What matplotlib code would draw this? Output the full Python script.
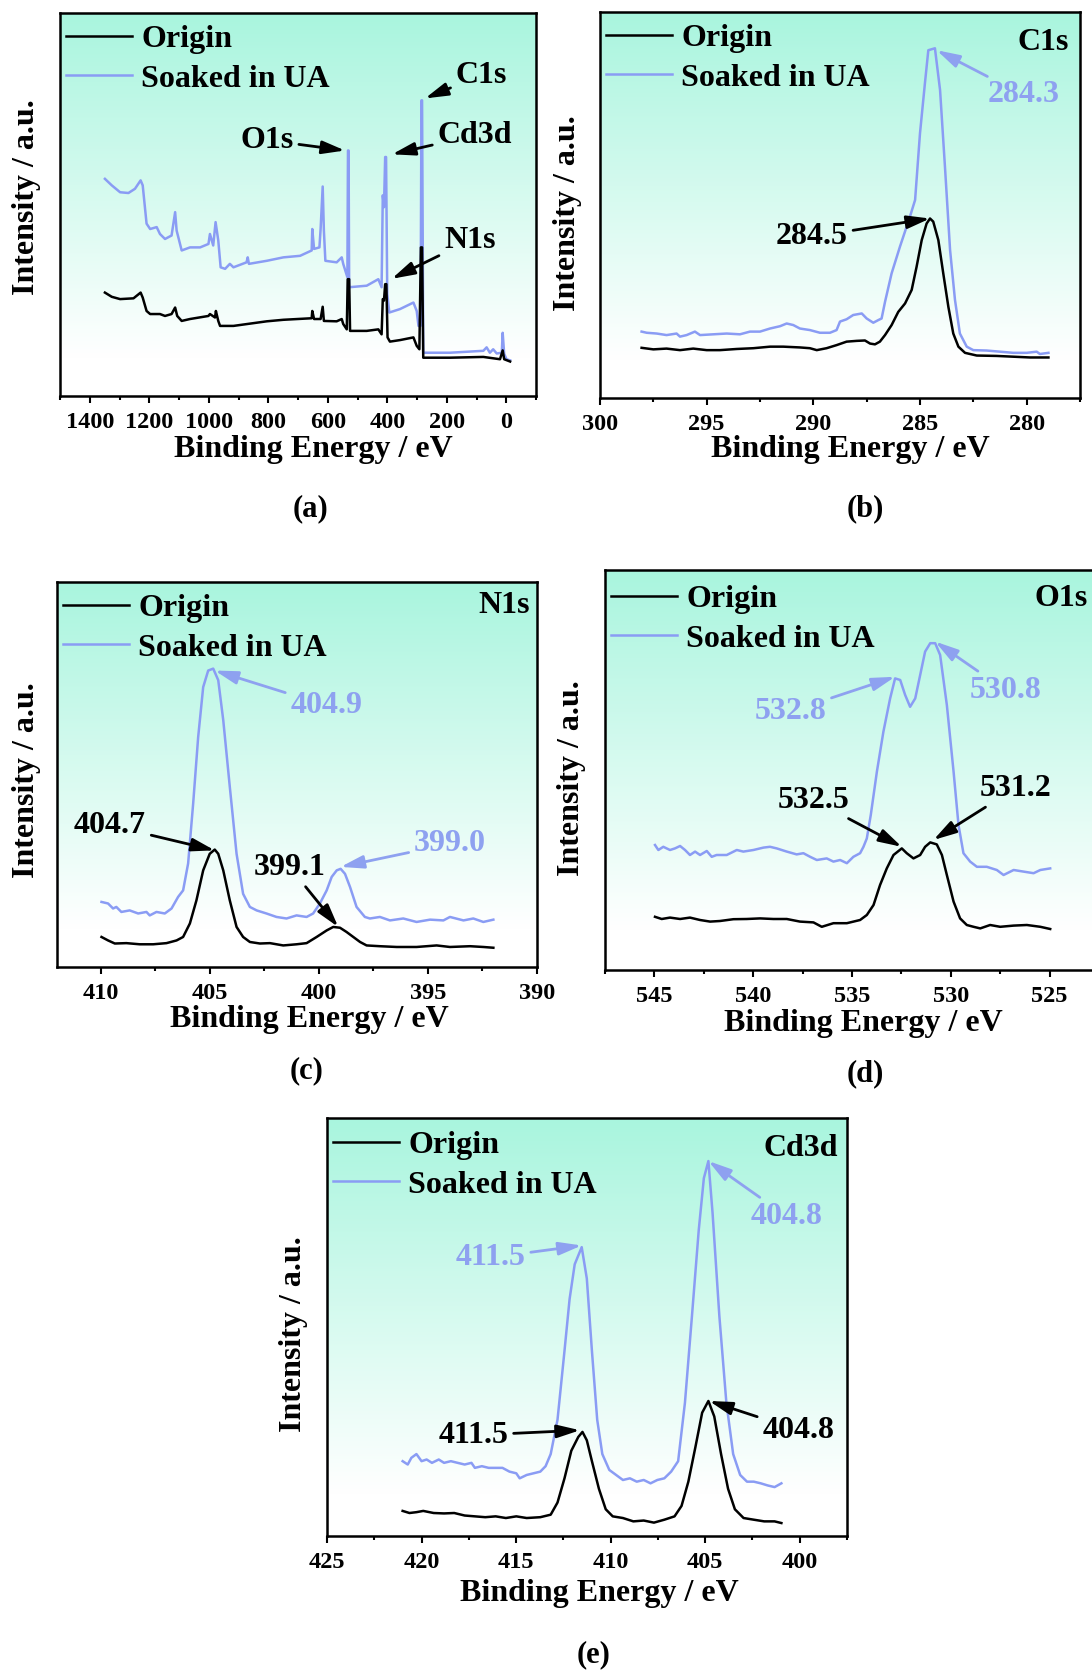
import numpy as np
import matplotlib
matplotlib.use('Agg')
import matplotlib.pyplot as plt
from matplotlib.colors import LinearSegmentedColormap
from matplotlib.ticker import MultipleLocator

plt.rcParams['font.family'] = ['Liberation Serif', 'DejaVu Serif']
plt.rcParams['font.weight'] = 'bold'
plt.rcParams['axes.labelweight'] = 'bold'

BLUE = '#8a9cf4'
BLUE_TXT = '#8ea1f0'

# (a) survey spectrum
be_a_origin = [1349, 1326, 1298, 1253, 1229, 1222, 1209, 1197, 1164, 1147, 1125, 1113, 1106, 1091, 1063,
               1001, 996, 979, 976, 968, 962, 917, 861, 805, 749, 654, 652, 646, 624, 617, 613, 570, 553,
               548, 536, 533, 528, 525, 469, 430, 419, 415, 411, 407, 403, 399, 391, 357, 312, 301, 292,
               287, 283, 279, 189, 77, 21, 12, 7, -13]
int_a_origin = [27.0, 25.9, 25.3, 25.5, 27.0, 25.7, 22.2, 21.4, 21.4, 20.9, 21.4, 23.1, 20.9, 19.6, 20.1,
                20.9, 21.4, 20.5, 22.2, 19.6, 18.3, 18.3, 18.9, 19.5, 19.9, 20.3, 22.2, 20.1, 20.1, 23.3,
                19.6, 19.5, 20.1, 18.8, 17.4, 30.5, 30.5, 17.0, 17.0, 17.4, 16.1, 25.3, 24.9, 29.2, 29.2,
                15.3, 14.2, 14.6, 15.3, 13.1, 12.2, 38.8, 38.8, 10.0, 10.0, 10.2, 9.6, 11.9, 9.6, 9.0]
be_a_ua = [1349, 1326, 1298, 1270, 1248, 1229, 1222, 1209, 1197, 1175, 1164, 1147, 1125, 1113, 1108, 1091,
           1063, 1029, 1001, 996, 985, 977, 968, 960, 945, 929, 917, 873, 869, 865, 805, 749, 693, 654,
           652, 646, 628, 624, 617, 613, 608, 570, 553, 548, 534, 532, 530, 528, 469, 430, 419, 415, 411,
           407, 404, 400, 393, 357, 312, 301, 295, 288, 285, 283, 279, 189, 77, 66, 55, 44, 32, 15, 12,
           7, -1, -13]
int_a_ua = [56.7, 55.0, 53.2, 53.0, 54.1, 56.3, 55.0, 45.0, 43.6, 44.1, 42.3, 41.0, 41.9, 48.0, 43.2, 38.0,
            38.8, 38.8, 39.7, 42.3, 39.3, 45.4, 40.6, 33.6, 33.2, 34.5, 33.6, 34.9, 36.2, 34.5, 35.3, 36.2,
            36.6, 38.0, 43.6, 38.4, 38.8, 43.6, 54.7, 43.2, 35.3, 34.9, 36.2, 34.5, 31.0, 64.1, 64.1, 28.4,
            28.8, 30.5, 28.4, 52.4, 49.3, 62.4, 62.4, 26.6, 21.8, 22.7, 24.4, 22.2, 18.3, 18.3, 77.2, 77.2,
            11.3, 11.3, 11.8, 12.7, 11.3, 12.2, 11.1, 11.3, 16.5, 11.0, 9.6, 9.3]

# (b) C1s
be_b_origin = [298.05, 297.5, 296.88, 296.25, 295.63, 295.0, 294.38, 293.59, 292.81, 292.03, 291.41, 290.63,
               290.16, 289.84, 289.38, 288.91, 288.44, 287.97, 287.58, 287.34, 287.11, 286.88, 286.64,
               286.33, 286.02, 285.7, 285.39, 285.16, 284.92, 284.69, 284.53, 284.38, 284.14, 283.91,
               283.67, 283.44, 283.2, 282.89, 282.34, 281.41, 280.63, 279.84, 278.98]
int_b_origin = [13.0, 12.6, 12.8, 12.4, 12.8, 12.4, 12.4, 12.7, 12.9, 13.3, 13.3, 13.1, 12.9, 12.4, 12.9,
                13.7, 14.6, 14.8, 14.9, 14.1, 13.9, 14.6, 16.3, 18.9, 22.3, 24.5, 28.0, 34.0, 40.9, 45.2,
                46.5, 45.7, 40.9, 32.3, 23.6, 16.7, 13.3, 11.7, 11.0, 10.9, 10.7, 10.5, 10.5]
be_b_ua = [298.05, 297.81, 297.34, 296.88, 296.41, 296.25, 295.94, 295.55, 295.31, 294.69, 294.06, 293.44,
           292.97, 292.5, 292.03, 291.56, 291.25, 290.94, 290.63, 290.16, 289.69, 289.22, 288.91, 288.75,
           288.44, 288.13, 287.73, 287.5, 287.19, 286.95, 286.8, 286.64, 286.33, 285.94, 285.47, 285.23,
           285.0, 284.77, 284.61, 284.3, 284.06, 283.83, 283.59, 283.36, 283.13, 282.81, 282.5, 281.88,
           281.25, 280.63, 280.0, 279.53, 279.38, 278.98]
int_b_ua = [17.2, 16.9, 16.7, 16.3, 16.7, 15.9, 16.3, 17.2, 16.3, 16.5, 16.7, 16.5, 17.2, 17.2, 18.0, 18.6,
            19.3, 18.9, 18.0, 17.6, 16.9, 16.9, 17.6, 19.8, 20.4, 21.5, 21.9, 20.6, 19.5, 20.2, 20.6, 24.9,
            32.3, 39.2, 47.0, 51.3, 68.6, 81.5, 90.1, 90.6, 79.8, 59.9, 38.3, 25.4, 16.7, 13.3, 12.4, 12.3,
            12.0, 11.7, 11.7, 12.0, 11.4, 11.7]

# (c) N1s
be_c_origin = [409.96, 409.66, 409.35, 408.82, 408.21, 407.59, 406.98, 406.52, 406.22, 405.91, 405.61,
               405.30, 405.00, 404.77, 404.61, 404.38, 404.08, 403.77, 403.47, 403.16, 402.70, 402.24,
               401.63, 401.02, 400.56, 400.10, 399.64, 399.34, 399.03, 398.73, 398.42, 398.11, 397.81,
               397.20, 396.43, 395.52, 394.60, 393.99, 393.07, 392.46, 392.00]
int_c_origin = [7.8, 6.9, 6.1, 6.2, 5.9, 5.9, 6.2, 6.9, 7.8, 11.3, 17.3, 25.1, 29.4, 30.5, 29.4, 25.1, 17.3,
                10.4, 7.8, 6.5, 6.1, 6.2, 5.6, 5.9, 6.2, 7.8, 9.5, 10.4, 10.2, 9.1, 7.8, 6.5, 5.6, 5.4, 5.2,
                5.2, 5.6, 5.2, 5.4, 5.2, 5.0]
be_c_ua = [409.96, 409.66, 409.43, 409.28, 409.05, 408.67, 408.28, 407.90, 407.75, 407.44, 407.06, 406.75,
           406.45, 406.22, 405.99, 405.76, 405.53, 405.30, 405.07, 404.84, 404.61, 404.38, 404.08, 403.77,
           403.47, 403.16, 402.85, 402.40, 401.94, 401.48, 401.02, 400.56, 400.26, 399.95, 399.64, 399.41,
           399.18, 399.00, 398.80, 398.57, 398.27, 397.89, 397.66, 397.20, 396.74, 396.13, 395.52, 394.90,
           394.29, 393.99, 393.37, 392.92, 392.46, 392.00]
int_c_ua = [16.9, 16.5, 15.2, 15.6, 14.3, 14.7, 13.9, 14.3, 13.4, 14.3, 13.9, 15.2, 18.2, 19.9, 26.9, 42.4,
            59.7, 72.7, 77.0, 77.5, 74.5, 64.1, 46.8, 29.4, 19.0, 15.6, 14.7, 13.9, 13.0, 12.6, 13.4, 13.0,
            13.9, 16.5, 19.9, 23.4, 25.1, 25.5, 24.2, 20.8, 15.6, 13.0, 12.6, 13.0, 12.1, 12.6, 11.7, 12.3,
            12.1, 13.0, 12.1, 12.6, 11.7, 12.3]

# (d) O1s
be_d_origin = [544.97, 544.63, 544.21, 543.70, 543.20, 542.69, 542.18, 541.68, 541.00, 540.33, 539.65,
               538.98, 538.30, 537.63, 536.95, 536.53, 535.94, 535.26, 534.59, 534.25, 533.91, 533.58,
               533.24, 532.90, 532.48, 532.23, 531.89, 531.55, 531.30, 531.04, 530.71, 530.45, 530.20,
               529.86, 529.53, 529.19, 528.85, 528.51, 528.01, 527.50, 526.82, 526.15, 525.47, 524.97]
int_d_origin = [13.3, 12.75, 13.1, 12.75, 13.1, 12.5, 12.1, 12.25, 12.7, 12.75, 12.9, 12.75, 12.75, 12.1,
                11.9, 10.8, 11.7, 11.7, 12.5, 13.75, 16.25, 21.25, 25.4, 28.75, 30.4, 29.2, 27.9, 28.75,
                30.8, 31.9, 31.4, 28.75, 23.75, 17.1, 12.9, 11.25, 10.8, 10.4, 11.25, 10.8, 11.1, 11.25,
                10.8, 10.25]
be_d_ua = [544.97, 544.80, 544.55, 544.21, 543.96, 543.70, 543.45, 543.20, 542.94, 542.69, 542.35, 542.10,
           541.85, 541.34, 540.83, 540.50, 539.99, 539.48, 539.15, 538.81, 538.30, 537.80, 537.46, 537.12,
           536.78, 536.28, 535.94, 535.60, 535.26, 534.93, 534.59, 534.42, 534.25, 534.05, 533.74, 533.41,
           533.07, 532.82, 532.56, 532.31, 532.06, 531.80, 531.55, 531.30, 531.04, 530.79, 530.54, 530.20,
           529.86, 529.61, 529.36, 529.02, 528.68, 528.18, 527.67, 527.33, 526.82, 526.32, 525.81, 525.47,
           524.97]
int_d_ua = [31.25, 30.0, 30.8, 30.0, 30.4, 31.0, 30.0, 28.75, 29.6, 28.75, 29.75, 28.3, 28.75, 28.75, 30.0,
            29.6, 30.0, 30.6, 30.8, 30.4, 29.6, 28.9, 29.2, 28.3, 27.5, 27.9, 27.1, 27.5, 26.7, 28.3, 29.2,
            30.8, 32.9, 38.75, 49.6, 59.6, 67.9, 72.9, 72.5, 68.75, 65.8, 67.9, 73.75, 79.6, 81.7, 81.7,
            78.75, 66.25, 49.6, 36.25, 29.2, 27.1, 25.8, 25.8, 25.0, 23.75, 25.0, 24.6, 24.2, 25.0, 25.4]

# (e) Cd3d
be_e_origin = [421.00, 420.64, 420.27, 419.91, 419.36, 418.81, 418.27, 417.72, 417.18, 416.63, 416.08,
               415.54, 414.99, 414.44, 413.72, 413.17, 412.81, 412.44, 412.08, 411.71, 411.49, 411.26,
               410.99, 410.62, 410.26, 409.89, 409.35, 408.80, 408.25, 407.71, 407.16, 406.62, 406.25,
               405.89, 405.52, 405.16, 404.83, 404.52, 404.16, 403.79, 403.43, 402.97, 402.43, 401.88,
               401.33, 400.97]
int_e_origin = [6.0, 5.5, 5.7, 6.0, 5.5, 5.4, 5.5, 4.9, 4.7, 4.5, 4.7, 4.3, 4.7, 4.3, 4.5, 5.1, 8.0, 13.8,
                20.4, 23.7, 24.9, 22.9, 17.9, 11.3, 6.4, 4.7, 4.3, 3.5, 3.7, 3.2, 3.9, 4.7, 7.2, 13.0, 21.2,
                29.5, 32.3, 28.6, 19.6, 11.3, 6.4, 4.3, 3.9, 3.5, 3.5, 3.1]
be_e_ua = [421.00, 420.73, 420.54, 420.27, 420.00, 419.73, 419.45, 419.09, 418.81, 418.45, 418.09, 417.72,
           417.36, 417.18, 416.81, 416.45, 416.08, 415.72, 415.35, 414.99, 414.81, 414.44, 414.08, 413.72,
           413.44, 413.17, 412.81, 412.44, 412.17, 411.90, 411.53, 411.26, 410.99, 410.71, 410.44, 410.07,
           409.71, 409.35, 408.98, 408.62, 408.25, 407.89, 407.53, 407.16, 406.80, 406.43, 406.07, 405.70,
           405.34, 405.07, 404.83, 404.61, 404.25, 403.88, 403.52, 403.15, 402.79, 402.43, 402.06, 401.70,
           401.33, 400.97]
int_e_ua = [17.9, 17.1, 18.7, 19.6, 17.9, 18.3, 17.5, 18.3, 17.5, 17.9, 17.5, 17.1, 17.5, 16.3, 16.7, 16.3,
            16.3, 16.3, 15.4, 15.0, 13.8, 14.6, 15.0, 15.4, 16.7, 19.6, 27.8, 44.3, 56.7, 65.0, 69.1, 61.6,
            44.3, 27.8, 19.6, 15.8, 14.6, 13.4, 13.8, 13.0, 13.4, 12.6, 13.4, 13.8, 15.4, 17.9, 31.9, 52.6,
            73.2, 85.6, 89.7, 77.3, 52.6, 31.9, 19.6, 14.6, 13.0, 13.0, 12.6, 12.1, 11.7, 12.6]

W, H = 1092, 1670
fig = plt.figure(figsize=(W / 100, H / 100), dpi=100)

bg = LinearSegmentedColormap.from_list('bg', [(0, 'white'), (0.1, 'white'), (1, '#a9f5de')])


def frac(box, px, py):
    l, t, r, b = box
    return (px - l) / (r - l), (b - py) / (b - t)


def panel(box, xlim, major, minor, origin, ua, notes, tag, xlab, ylab, letter, leg_dy=5):
    l, t, r, b = box
    ax = fig.add_axes([l / W, 1 - b / H, (r - l) / W, (b - t) / H])
    grad = np.linspace(0, 1, 256).reshape(-1, 1)
    ax.imshow(grad, extent=[0, 1, 0, 1], transform=ax.transAxes, origin='lower',
              cmap=bg, aspect='auto', zorder=0)
    l2, = ax.plot(ua[0], ua[1], color=BLUE, lw=1.8, zorder=2)
    l1, = ax.plot(origin[0], origin[1], color='black', lw=1.8, zorder=3)
    ax.set_xlim(*xlim)
    ax.set_ylim(0, 100)
    ax.set_yticks([])
    ax.xaxis.set_major_locator(MultipleLocator(major))
    ax.xaxis.set_minor_locator(MultipleLocator(minor))
    ax.tick_params(axis='x', which='major', direction='out', length=5, width=1.5,
                   labelsize=17.5, pad=6.5)
    ax.tick_params(axis='x', which='minor', direction='out', length=3, width=1.5)
    for s in ax.spines.values():
        s.set_linewidth(1.8)
    ax.legend([l1, l2], ['Origin', 'Soaked in UA'], loc='upper left', frameon=False,
              bbox_to_anchor=(0, 1 - leg_dy / (b - t)),
              prop={'size': 23, 'weight': 'bold'}, handlelength=2.05, handletextpad=0.3,
              labelspacing=0.33, borderaxespad=0.1, borderpad=0.1)
    for txt, xy, xyt, c in notes:
        col = BLUE_TXT if c == 'b' else 'black'
        ax.annotate(txt, xy=xy, xytext=xyt, ha='center', va='center', fontsize=23, color=col,
                    arrowprops=dict(arrowstyle='-|>,head_length=0.6,head_width=0.17',
                                    color=col, lw=2, shrinkA=2, shrinkB=0))
    if tag:
        ax.text(tag[1], tag[2], tag[0], transform=ax.transAxes, ha='right', va='center',
                fontsize=23)
    ax.set_xlabel('Binding Energy / eV', fontsize=23, va='center')
    ax.xaxis.set_label_coords(*frac(box, *xlab))
    ax.set_ylabel('Intensity / a.u.', fontsize=23, va='center', ha='center')
    ax.yaxis.set_label_coords(*frac(box, *ylab))
    fig.text(letter[1] / W, 1 - letter[2] / H, letter[0], ha='center', va='center', fontsize=22)
    return ax


panel((60, 13, 536, 396), (1500, -100), 200, 100,
      (be_a_origin, int_a_origin), (be_a_ua, int_a_ua),
      [('O1s', (542, 64.1), (805, 66.8), 'k'), ('Cd3d', (384, 63.1), (105, 68.1), 'k'),
       ('C1s', (273, 77.7), (83, 83.8), 'k'), ('N1s', (385, 30.6), (122, 40.6), 'k')],
      None, (313, 450), (27, 197), ('(a)', 310, 509))

panel((600, 12, 1080, 398), (300, 277.5), 5, 2.5,
      (be_b_origin, int_b_origin), (be_b_ua, int_b_ua),
      [('284.3', (284.22, 90.1), (280.16, 78.5), 'b'), ('284.5', (284.53, 46.5), (290.08, 41.8), 'k')],
      ('C1s', 0.976, 0.92), (850, 450), (567, 213), ('(b)', 865, 509))

panel((57, 582, 537, 967), (412, 390), 5, 2.5,
      (be_c_origin, int_c_origin), (be_c_ua, int_c_ua),
      [('404.9', (404.77, 77.0), (399.64, 67.9), 'b'), ('399.0', (399.0, 26.0), (393.98, 32.0), 'b'),
       ('404.7', (404.77, 30.3), (409.58, 36.8), 'k'), ('399.1', (399.11, 10.4), (401.33, 25.9), 'k')],
      ('N1s', 0.986, 0.94), (309, 1020), (27, 780), ('(c)', 307, 1071))

panel((605, 570, 1099, 970), (547.5, 522.5), 5, 2.5,
      (be_d_origin, int_d_origin), (be_d_ua, int_d_ua),
      [('532.8', (532.82, 73.3), (538.13, 64.6), 'b'), ('530.8', (530.79, 82.1), (527.25, 70.0), 'b'),
       ('532.5', (532.48, 30.8), (536.95, 42.5), 'k'), ('531.2', (530.88, 32.5), (526.74, 45.4), 'k')],
      ('O1s', 0.978, 0.93), (863, 1024), (572, 778), ('(d)', 865, 1074), leg_dy=8)

panel((327, 1118, 847, 1536), (425, 397.5), 5, 2.5,
      (be_e_origin, int_e_origin), (be_e_ua, int_e_ua),
      [('404.8', (404.83, 89.7), (400.7, 76.5), 'b'), ('411.5', (411.53, 69.5), (416.36, 66.6), 'b'),
       ('411.5', (411.62, 25.3), (417.27, 24.1), 'k'), ('404.8', (404.79, 32.3), (400.06, 25.3), 'k')],
      ('Cd3d', 0.983, 0.926), (599, 1594), (294, 1334), ('(e)', 594, 1655), leg_dy=6)

fig.savefig('out.png', dpi=100)
